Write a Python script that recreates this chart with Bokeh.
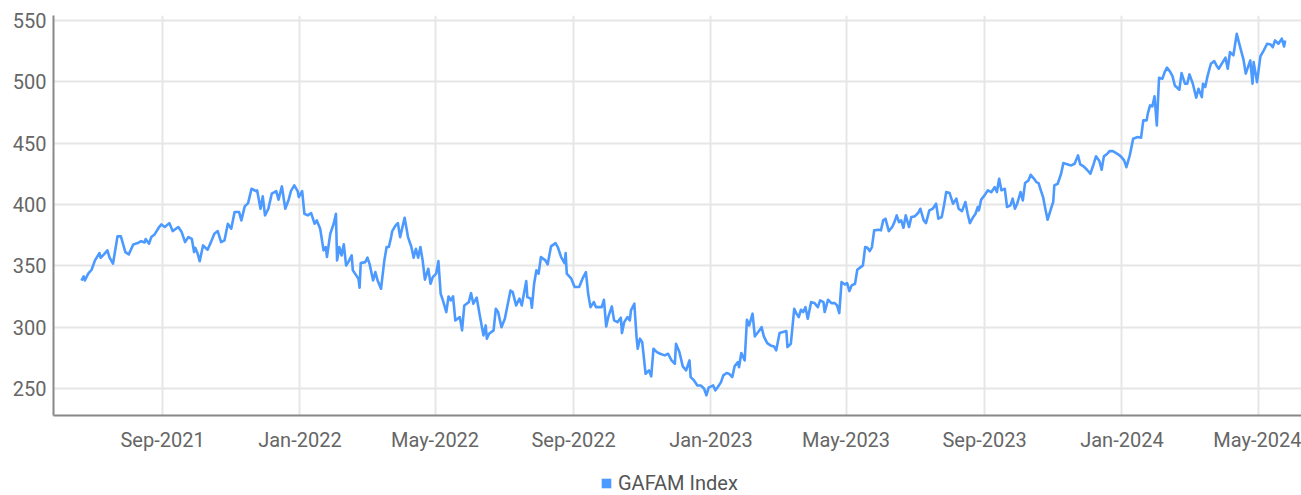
import pandas as pd
from datetime import datetime
from bokeh.plotting import figure
from bokeh.layouts import column
from bokeh.models import (Range1d, FixedTicker, DatetimeTickFormatter, Legend,
                          LegendItem, ColumnDataSource)
from bokeh.embed import file_html
from bokeh.resources import INLINE

series_name = "GAFAM Index"

dates = [
    "2021-06-21", "2021-06-23", "2021-06-24", "2021-06-27", "2021-06-30",
    "2021-07-03", "2021-07-07", "2021-07-08", "2021-07-11", "2021-07-14", "2021-07-16", "2021-07-19", "2021-07-23", "2021-07-26", "2021-07-30",
    "2021-08-02", "2021-08-06", "2021-08-10", "2021-08-13", "2021-08-16", "2021-08-17", "2021-08-20", "2021-08-22", "2021-08-25", "2021-08-29", "2021-08-31",
    "2021-09-03", "2021-09-07", "2021-09-10", "2021-09-15", "2021-09-18", "2021-09-21", "2021-09-24", "2021-09-27", "2021-09-29", "2021-09-30",
    "2021-10-02", "2021-10-04", "2021-10-07", "2021-10-11", "2021-10-14", "2021-10-17", "2021-10-20", "2021-10-23", "2021-10-26", "2021-10-29",
    "2021-11-01", "2021-11-04", "2021-11-08", "2021-11-10", "2021-11-13", "2021-11-16", "2021-11-19", "2021-11-23", "2021-11-24", "2021-11-27", "2021-11-29",
    "2021-12-01", "2021-12-04", "2021-12-07", "2021-12-11", "2021-12-13", "2021-12-16", "2021-12-19", "2021-12-22", "2021-12-24", "2021-12-27", "2021-12-30", "2021-12-31",
    "2022-01-03", "2022-01-05", "2022-01-08", "2022-01-11", "2022-01-14", "2022-01-16", "2022-01-19", "2022-01-22", "2022-01-24", "2022-01-25", "2022-01-28", "2022-01-31",
    "2022-02-02", "2022-02-03", "2022-02-05", "2022-02-07", "2022-02-09", "2022-02-11", "2022-02-13", "2022-02-16", "2022-02-17", "2022-02-20", "2022-02-22", "2022-02-23", "2022-02-24", "2022-02-28",
    "2022-03-02", "2022-03-04", "2022-03-07", "2022-03-09", "2022-03-11", "2022-03-14", "2022-03-17", "2022-03-19", "2022-03-21", "2022-03-23", "2022-03-24", "2022-03-27", "2022-03-29", "2022-03-31",
    "2022-04-04", "2022-04-07", "2022-04-10", "2022-04-12", "2022-04-14", "2022-04-16", "2022-04-18", "2022-04-20", "2022-04-22", "2022-04-25", "2022-04-27", "2022-04-29",
    "2022-05-02", "2022-05-04", "2022-05-06", "2022-05-08", "2022-05-11", "2022-05-13", "2022-05-15", "2022-05-17", "2022-05-19", "2022-05-23", "2022-05-25", "2022-05-27", "2022-05-31",
    "2022-06-02", "2022-06-04", "2022-06-07", "2022-06-10", "2022-06-13", "2022-06-15", "2022-06-16", "2022-06-18", "2022-06-22", "2022-06-24", "2022-06-26", "2022-06-29",
    "2022-07-02", "2022-07-07", "2022-07-09", "2022-07-12", "2022-07-15", "2022-07-17", "2022-07-21", "2022-07-22", "2022-07-25", "2022-07-26", "2022-07-28", "2022-07-30",
    "2022-08-01", "2022-08-03", "2022-08-07", "2022-08-09", "2022-08-12", "2022-08-16", "2022-08-18", "2022-08-21", "2022-08-24", "2022-08-25", "2022-08-26", "2022-08-30",
    "2022-09-02", "2022-09-06", "2022-09-09", "2022-09-12", "2022-09-14", "2022-09-16", "2022-09-19", "2022-09-21", "2022-09-24", "2022-09-26", "2022-09-28", "2022-09-30",
    "2022-10-02", "2022-10-05", "2022-10-07", "2022-10-10", "2022-10-13", "2022-10-14", "2022-10-16", "2022-10-19", "2022-10-21", "2022-10-22", "2022-10-25", "2022-10-27", "2022-10-28", "2022-10-30",
    "2022-11-01", "2022-11-04", "2022-11-07", "2022-11-09", "2022-11-11", "2022-11-14", "2022-11-17", "2022-11-21", "2022-11-24", "2022-11-27", "2022-11-30",
    "2022-12-01", "2022-12-04", "2022-12-07", "2022-12-10", "2022-12-13", "2022-12-14", "2022-12-17", "2022-12-20", "2022-12-23", "2022-12-26", "2022-12-28", "2022-12-30",
    "2023-01-03", "2023-01-05", "2023-01-07", "2023-01-10", "2023-01-12", "2023-01-15", "2023-01-17", "2023-01-20", "2023-01-22", "2023-01-25", "2023-01-26", "2023-01-28", "2023-01-31",
    "2023-02-02", "2023-02-04", "2023-02-07", "2023-02-09", "2023-02-12", "2023-02-15", "2023-02-17", "2023-02-20", "2023-02-23", "2023-02-26", "2023-02-28",
    "2023-03-03", "2023-03-06", "2023-03-09", "2023-03-10", "2023-03-13", "2023-03-16", "2023-03-18", "2023-03-20", "2023-03-22", "2023-03-24", "2023-03-26", "2023-03-28", "2023-03-31",
    "2023-04-03", "2023-04-06", "2023-04-08", "2023-04-11", "2023-04-12", "2023-04-15", "2023-04-18", "2023-04-21", "2023-04-23", "2023-04-25", "2023-04-27", "2023-04-30",
    "2023-05-02", "2023-05-04", "2023-05-06", "2023-05-09", "2023-05-11", "2023-05-14", "2023-05-16", "2023-05-18", "2023-05-20", "2023-05-22", "2023-05-24", "2023-05-26", "2023-05-30",
    "2023-06-01", "2023-06-03", "2023-06-05", "2023-06-08", "2023-06-11", "2023-06-13", "2023-06-15", "2023-06-17", "2023-06-19", "2023-06-21", "2023-06-23", "2023-06-26", "2023-06-28",
    "2023-07-01", "2023-07-04", "2023-07-06", "2023-07-09", "2023-07-11", "2023-07-14", "2023-07-17", "2023-07-20", "2023-07-22", "2023-07-25", "2023-07-27", "2023-07-29",
    "2023-08-01", "2023-08-04", "2023-08-07", "2023-08-09", "2023-08-12", "2023-08-15", "2023-08-17", "2023-08-19", "2023-08-22", "2023-08-24", "2023-08-26", "2023-08-27", "2023-08-29",
    "2023-09-01", "2023-09-04", "2023-09-07", "2023-09-10", "2023-09-12", "2023-09-14", "2023-09-16", "2023-09-19", "2023-09-21", "2023-09-24", "2023-09-26", "2023-09-28", "2023-09-30",
    "2023-10-03", "2023-10-05", "2023-10-07", "2023-10-10", "2023-10-12", "2023-10-15", "2023-10-17", "2023-10-19", "2023-10-21", "2023-10-23", "2023-10-25", "2023-10-27", "2023-10-30",
    "2023-11-01", "2023-11-02", "2023-11-05", "2023-11-08", "2023-11-10", "2023-11-14", "2023-11-17", "2023-11-20", "2023-11-23", "2023-11-25", "2023-11-28",
    "2023-12-01", "2023-12-04", "2023-12-07", "2023-12-09", "2023-12-12", "2023-12-14", "2023-12-16", "2023-12-19", "2023-12-21", "2023-12-24", "2023-12-28", "2023-12-31",
    "2024-01-03", "2024-01-05", "2024-01-08", "2024-01-11", "2024-01-15", "2024-01-18", "2024-01-20", "2024-01-23", "2024-01-24", "2024-01-26", "2024-01-28", "2024-01-30",
    "2024-02-01", "2024-02-03", "2024-02-06", "2024-02-08", "2024-02-10", "2024-02-13", "2024-02-15", "2024-02-17", "2024-02-21", "2024-02-23", "2024-02-26", "2024-02-28",
    "2024-03-01", "2024-03-04", "2024-03-07", "2024-03-09", "2024-03-12", "2024-03-13", "2024-03-15", "2024-03-17", "2024-03-20", "2024-03-23", "2024-03-25", "2024-03-27", "2024-03-30",
    "2024-04-02", "2024-04-04", "2024-04-06", "2024-04-09", "2024-04-12", "2024-04-15", "2024-04-18", "2024-04-20", "2024-04-24", "2024-04-26", "2024-04-27", "2024-04-30",
    "2024-05-03", "2024-05-06", "2024-05-09", "2024-05-12", "2024-05-14", "2024-05-16", "2024-05-19", "2024-05-22", "2024-05-24", "2024-05-25",
]

values = [
    338, 341.4, 338, 343.6, 346.8,
    354.4, 360.4, 356.6, 359.3, 362.6, 356.6, 351.7, 374, 374, 361.2,
    359.3, 367.4, 368.5, 370.1, 369, 371.8, 368, 373.4, 375.6, 381.6, 383.7,
    381.6, 384.8, 378.3, 381.6, 377.5, 369.3, 373.4, 372, 361.2, 364.7,
    360.4, 353.8, 366.6, 363.1, 369.3, 376.2, 378.3, 369.3, 370.7, 384.3,
    380.2, 393.8, 393.8, 387, 398.4, 401.1, 412.8, 410.9, 411.5, 396.5, 406.6,
    391.1, 396.5, 408.8, 410.9, 403.9, 414.7, 396.5, 403.9, 410.9, 415.5, 410.9, 406,
    410.9, 392.4, 391.1, 393, 384.3, 387, 380.2, 362.6, 365.3, 357.2, 376.2, 384.3,
    392.4, 354.4, 365.3, 358.5, 367.5, 350.3, 353, 358.5, 346.3, 342.2, 339.5, 332.1, 352.2, 353,
    356.6, 351.1, 338.1, 344.9, 338.1, 331.3, 354.4, 365.3, 365.3, 373.4, 378.3, 383, 384.8, 373.4,
    389.2, 373.4, 365.3, 356.6, 363.9, 356.6, 365.3, 354.4, 338.7, 347.6, 335.4, 340.8,
    343.6, 353.8, 327.2, 321.8, 312.3, 325, 321.8, 325, 305.5, 308.2, 297.4, 317.7, 320.4,
    327.7, 319.1, 324, 308.2, 293.3, 301.4, 290.6, 294.6, 297.4, 315, 312.3, 300,
    306.9, 329.9, 328.6, 317.7, 323.2, 317.7, 337.5, 324.5, 323.2, 315.8, 335.4, 346.3,
    343.6, 357.1, 354.4, 351.1, 365.8, 368.5, 365.3, 357.1, 352.2, 360.4, 343.6, 339.5,
    332.7, 332.7, 339.5, 344.9, 327.2, 316.3, 320.4, 316.3, 316.3, 316.3, 322.3, 300.6,
    308.8, 316.9, 305.5, 304.1, 307.7, 295.2, 304.1, 308.2, 305.5, 313.7, 319.1, 291.4, 282.4, 290.6,
    287.8, 262, 264.8, 259.9, 282.4, 279.7, 278.3, 277, 278.3, 272.9, 270.2,
    286.5, 279.7, 268, 264.8, 272.9, 259.3, 256.6, 252.5, 252.5, 249.8, 244.4, 250.7,
    252.5, 248.5, 251.1, 255.2, 260.7, 262.6, 262.1, 259.3, 268, 271.5, 267.4, 278.9, 272.9,
    306, 301.4, 311, 292.5, 296, 300, 292.5, 287, 285.1, 284.3, 281.1,
    295.2, 296, 296.8, 283.8, 286.5, 315, 311, 308.2, 314.2, 312.3, 316.3, 306.9, 320.4,
    319.6, 316.3, 321.8, 320.4, 312.3, 322.3, 319.6, 319.6, 317.7, 311.5, 336.7, 334.8,
    335.9, 329.4, 334, 335.4, 346.8, 348.9, 350.3, 365.3, 364.7, 362, 365.3, 378.9, 379.4,
    378.9, 387, 388.4, 378.3, 381.6, 385.6, 391.1, 385.6, 387, 381, 391.1, 381.6, 389.8,
    390.3, 393, 396.5, 387, 384.8, 395.2, 396.5, 400.6, 388.4, 389.8, 399.2, 410.1,
    409.3, 400.6, 404.7, 396.5, 394.6, 402, 392.4, 384.8, 389.8, 392.4, 397.9, 395.2, 403.9,
    407.4, 411.5, 410, 414.1, 410.1, 420.9, 411.5, 412.8, 397.9, 399.2, 404.7, 396.5, 400.6,
    410.1, 403.3, 417.4, 419.6, 424.2, 420.9, 418.2, 417.4, 411.5, 406, 396.5, 387.5, 396.5,
    402, 415.5, 416.9, 425, 433.7, 432.6, 431.8, 433.2, 440, 432.6, 431,
    428.3, 425, 433.2, 439.2, 435.4, 428.3, 439.2, 441.3, 443.5, 443.5, 441.3, 439.2,
    435.9, 430.4, 440, 453.6, 454.9, 454.4, 468.5, 468.5, 474, 480.7, 479.9, 488.1,
    464.4, 503.3, 502.5, 507.9, 511.5, 507.9, 504.4, 497, 493.5, 507.1, 498.4, 498.4,
    506, 498.4, 487, 494.3, 487.5, 498.4, 495.7, 504.4, 514.7, 516.8, 513.3, 510.6, 515.2,
    519.6, 510.6, 524.2, 521.5, 539.1, 528.2, 518, 506.6, 517.4, 498.4, 516, 499.7,
    520.7, 525.6, 531, 530.4, 528.2, 533.7, 531, 535.1, 528.8, 533.7,
]

x_tick_dates = ["2021-09-01", "2022-01-01", "2022-05-01", "2022-09-01", "2023-01-01",
                "2023-05-01", "2023-09-01", "2024-01-01", "2024-05-01"]
y_ticks = [250, 300, 350, 400, 450, 500, 550]

BLUE = "#4c9aff"
FONT = "Roboto"
TXT = "#666666"

src = ColumnDataSource(dict(x=pd.to_datetime(dates), y=values))

p = figure(width=1301, height=455, x_axis_type="datetime",
           output_backend="svg", toolbar_location=None,
           x_range=Range1d(datetime(2021, 5, 27, 4), datetime(2024, 6, 8, 12)),
           y_range=Range1d(228, 554),
           min_border_left=53, min_border_right=0, min_border_top=15, min_border_bottom=40)
p.outline_line_color = None
p.background_fill_color = "white"
p.border_fill_color = "white"

p.line("x", "y", source=src, line_color=BLUE, line_width=2.6, line_join="round")

xt = [pd.Timestamp(d).value // 10**6 for d in x_tick_dates]
p.xaxis.ticker = FixedTicker(ticks=xt)
fmt = "%b-%Y"
p.xaxis.formatter = DatetimeTickFormatter(milliseconds=fmt, seconds=fmt, minsec=fmt, minutes=fmt,
                                          hourmin=fmt, hours=fmt, days=fmt, months=fmt, years=fmt)
p.yaxis.ticker = FixedTicker(ticks=y_ticks)
p.xgrid.ticker = FixedTicker(ticks=xt)
p.ygrid.ticker = FixedTicker(ticks=y_ticks)

for ax in (p.xaxis[0], p.yaxis[0]):
    ax.axis_line_color = "#888888"
    ax.axis_line_width = 2
    ax.major_tick_line_color = None
    ax.minor_tick_line_color = None
    ax.major_tick_out = 0
    ax.major_tick_in = 0
    ax.major_label_text_font = FONT
    ax.major_label_text_font_size = "20px"
    ax.major_label_text_color = TXT
p.xaxis.major_label_standoff = 12
p.yaxis.major_label_standoff = 7

for g in (p.xgrid[0], p.ygrid[0]):
    g.grid_line_color = "#e6e6e6"
    g.grid_line_width = 2

# legend strip below the chart (swatch glyph kept outside the strip's visible range)
lp = figure(width=1301, height=40, output_backend="svg", toolbar_location=None,
            x_range=Range1d(0, 1), y_range=Range1d(0, 1),
            x_axis_location=None, y_axis_location=None,
            min_border_left=0, min_border_right=0, min_border_top=0, min_border_bottom=0)
lp.outline_line_color = None
lp.xgrid.visible = False
lp.ygrid.visible = False
swatch_src = ColumnDataSource(dict(l=[-3], r=[-2], b=[-3], t=[-2]))
lr = lp.quad(left="l", right="r", bottom="b", top="t", source=swatch_src,
             fill_color=BLUE, line_color=None)
legend = Legend(items=[LegendItem(label=series_name, renderers=[lr])],
                location=(547, 0), orientation="horizontal",
                glyph_width=12, glyph_height=12, label_standoff=6, label_height=20,
                label_text_font=FONT, label_text_font_size="20px", label_text_color="#555555",
                padding=0, margin=0, border_line_color=None, background_fill_alpha=0)
lp.add_layout(legend, "center")

layout = column(p, lp, spacing=0)
open("out.html", "w").write(file_html(layout, INLINE))
